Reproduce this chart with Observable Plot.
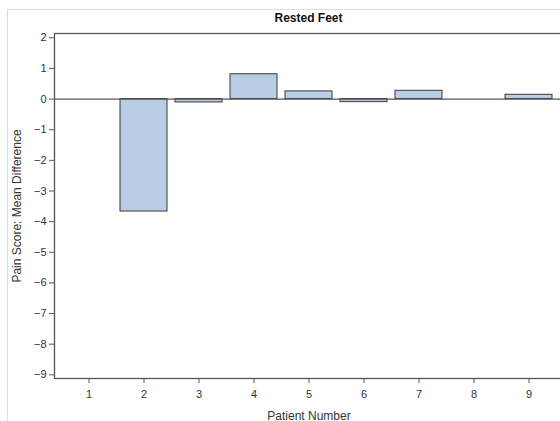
<!DOCTYPE html>
<html>
<head>
<meta charset="utf-8">
<script src="https://cdn.jsdelivr.net/npm/d3@7"></script>
<script src="https://cdn.jsdelivr.net/npm/@observablehq/plot@0.6"></script>
<style>
  html, body { margin: 0; padding: 0; background: #fff; overflow: hidden; width: 560px; height: 421px; }
  #frame { position: absolute; left: 7px; top: 9px; width: 600px; height: 500px; border: 1px solid #dcdcdc; box-sizing: border-box; }
  #title { position: absolute; left: 54px; width: 509px; top: 11px; text-align: center; font: bold 12px "Liberation Sans", Arial, sans-serif; color: #111; }
  #chart { position: absolute; left: 0; top: 0; width: 566px; }
  #chart svg { max-width: none !important; }
</style>
</head>
<body>
<div id="frame"></div>
<div id="title">Rested Feet</div>
<div id="chart"></div>
<script>
const categories = [1, 2, 3, 4, 5, 6, 7, 8, 9];
const patients = [2, 3, 4, 5, 6, 7, 9];
const meanDiff = [-3.67, -0.11, 0.81, 0.25, -0.1, 0.27, 0.14];
const yTicks = [2, 1, 0, -1, -2, -3, -4, -5, -6, -7, -8, -9];

const data = patients.map((p, i) => ({patient: p, value: meanDiff[i]}));

const plot = Plot.plot({
  width: 566,
  height: 421,
  marginTop: 33,
  marginLeft: 54,
  marginRight: 3,
  marginBottom: 43,
  style: {fontFamily: "'Liberation Sans', Arial, sans-serif", fontSize: "11px", color: "#333", background: "transparent", maxWidth: "none"},
  x: {type: "band", domain: categories, paddingInner: 0.15, paddingOuter: 0.18},
  y: {domain: [-9.12, 2.14]},
  marks: [
    Plot.barY(data, {x: "patient", y: "value", fill: "#b9cde5", stroke: "#3a3a3a", strokeWidth: 1}),
    Plot.ruleY([0], {stroke: "#555", strokeWidth: 1.3}),
    Plot.frame({stroke: "#555", strokeWidth: 1.3}),
    Plot.axisY({ticks: yTicks, tickSize: 5, tickPadding: 3, fontSize: 11, stroke: "#555",
      label: "Pain Score: Mean Difference", labelAnchor: "center", labelArrow: "none", labelOffset: 42}),
    Plot.axisX({ticks: categories, tickSize: 5, tickPadding: 7, fontSize: 11, stroke: "#555",
      label: "Patient Number", labelAnchor: "center", labelArrow: "none", labelOffset: 41})
  ]
});
plot.querySelectorAll('[aria-label="y-axis label"] text, [aria-label="x-axis label"] text').forEach(t => t.setAttribute("font-size", "12px"));
document.getElementById("chart").appendChild(plot);
</script>
</body>
</html>
